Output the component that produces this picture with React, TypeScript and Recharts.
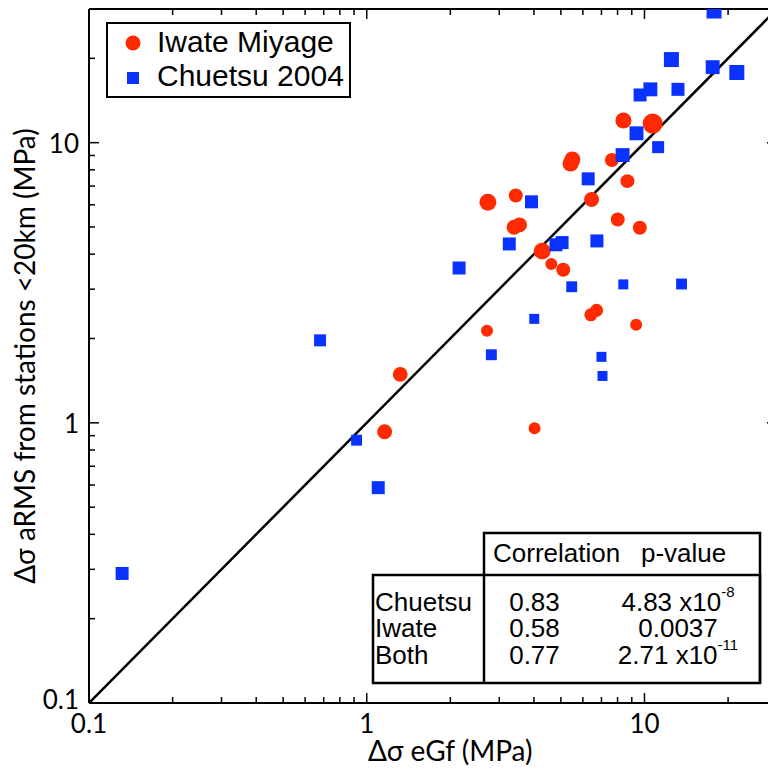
import React from "react";
import { ScatterChart, Scatter, XAxis, YAxis, ZAxis, Legend } from "recharts";

// log axes, both 0.1 .. 30 MPa
const axisDomain = [0.1, 30];
const logTicks = [
  0.1, 0.2, 0.3, 0.4, 0.5, 0.6, 0.7, 0.8, 0.9,
  1, 2, 3, 4, 5, 6, 7, 8, 9,
  10, 20, 30,
];
const tickLabels = [0.1, 1, 10];

// Iwate Miyage: eGf stress drop, aRMS stress drop, magnitude (marker size)
const iwateEgf = [8.4, 10.7, 7.63, 5.5, 5.42, 8.68, 2.73, 3.44, 6.45, 3.39, 3.55, 8.01, 9.62, 4.28, 4.62, 5.1, 6.41, 6.72, 9.33, 2.71, 1.32, 1.16, 4.02];
const iwateArms = [12.0, 11.7, 8.67, 8.71, 8.43, 7.29, 6.13, 6.48, 6.27, 4.99, 5.09, 5.32, 4.97, 4.1, 3.69, 3.52, 2.43, 2.52, 2.24, 2.13, 1.49, 0.929, 0.957];
const iwateMag = [3.9, 5.0, 3.4, 3.9, 3.9, 3.4, 4.1, 3.4, 3.6, 3.6, 3.6, 3.4, 3.4, 4.1, 3.0, 3.4, 3.2, 3.2, 3.0, 3.0, 3.6, 3.6, 3.0];

// Chuetsu 2004
const chuetsuEgf = [17.8, 12.5, 17.6, 21.5, 10.5, 9.64, 13.2, 9.36, 11.2, 8.34, 6.27, 3.92, 3.26, 5.05, 4.8, 6.74, 2.15, 5.47, 8.39, 13.6, 4.01, 2.81, 7.0, 7.06, 0.679, 0.919, 1.1, 0.1316];
const chuetsuArms = [29.5, 19.8, 18.6, 17.8, 15.5, 14.8, 15.5, 10.8, 9.64, 9.03, 7.43, 6.15, 4.35, 4.4, 4.32, 4.46, 3.57, 3.06, 3.12, 3.13, 2.35, 1.75, 1.72, 1.47, 1.97, 0.867, 0.587, 0.29];
const chuetsuMag = [5.0, 5.0, 4.5, 5.0, 4.5, 4.1, 4.1, 4.5, 3.7, 4.5, 4.1, 4.1, 4.1, 4.1, 4.1, 4.1, 4.1, 3.3, 3.0, 3.3, 3.0, 3.3, 3.0, 3.0, 3.7, 3.3, 4.1, 4.1];

const oneToOne = [0.1, 30];

// correlation table
const corrRows = ["Chuetsu", "Iwate", "Both"];
const corrValues = ["0.83", "0.58", "0.77"];
const pMantissa = ["4.83 x10", "0.0037", "2.71 x10"];
const pExponent = ["-8", "", "-11"];

const RED = "#ff2a00";
const BLUE = "#0a32ff";
const TICK_FONT = "Lato, 'Open Sans', sans-serif";
const TABLE_FONT = "'Liberation Sans', Arial, sans-serif";

const zip = (xs: number[], ys: number[], ms: number[]) =>
  xs.map((x, i) => ({ x, y: ys[i], m: ms[i] }));

const iwate = zip(iwateEgf, iwateArms, iwateMag);
const chuetsu = zip(chuetsuEgf, chuetsuArms, chuetsuMag);
const diag = oneToOne.map((v) => ({ x: v, y: v }));

type Side = "bottom" | "top" | "left" | "right";

function LogTick(props: any) {
  const { x, y, payload, side } = props as { x: number; y: number; payload: { value: number }; side: Side };
  const v = payload.value;
  const major = tickLabels.includes(v);
  const len = major ? 10 : 6;
  let x2 = x, y2 = y;
  if (side === "bottom") y2 = y - len;
  if (side === "top") y2 = y + len;
  if (side === "left") x2 = x + len;
  if (side === "right") x2 = x - len;
  return (
    <g>
      <line x1={x} y1={y} x2={x2} y2={y2} stroke="#000" strokeWidth={1.5} />
      {major && side === "bottom" && (
        <text x={x} y={y + 30} textAnchor="middle" fontSize={26} fontFamily={TICK_FONT} fill="#000">
          {String(v)}
        </text>
      )}
      {major && side === "left" && (
        <text x={x - 10} y={v === axisDomain[0] ? y + 6 : y + 10} textAnchor="end" fontSize={26} fontFamily={TICK_FONT} fill="#000">
          {String(v)}
        </text>
      )}
    </g>
  );
}

function LegendBox() {
  return (
    <svg width={245} height={76} style={{ display: "block" }}>
      <rect x={1} y={1} width={243} height={74} fill="#fff" stroke="#000" strokeWidth={2} />
      <circle cx={27} cy={21} r={7.5} fill={RED} />
      <text x={51} y={30} fontSize={30} fontFamily={TABLE_FONT} fill="#000">Iwate Miyage</text>
      <rect x={21} y={50} width={12} height={12} fill={BLUE} />
      <text x={51} y={64} fontSize={30} fontFamily={TABLE_FONT} fill="#000">Chuetsu 2004</text>
    </svg>
  );
}

function CorrTable() {
  const rowBase = [610.7, 637.3, 664];
  return (
    <svg width={768} height={773} style={{ position: "absolute", left: 0, top: 0, pointerEvents: "none" }}>
      <g fill="none" stroke="#000" strokeWidth={2.5}>
        <polyline points="484,683 484,533 760,533 760,683" />
        <rect x={373} y={575} width={387} height={108} />
      </g>
      <g fontFamily={TABLE_FONT} fontSize={26} fill="#000">
        <text x={493} y={561.7}>Correlation</text>
        <text x={641} y={561.7}>p-value</text>
        {corrRows.map((r, i) => (
          <g key={r}>
            <text x={375} y={rowBase[i]}>{r}</text>
            <text x={534.5} y={rowBase[i]} textAnchor="middle">{corrValues[i]}</text>
            <text x={678} y={rowBase[i]} textAnchor="middle">
              {pMantissa[i]}
              {pExponent[i] && (
                <tspan fontSize={15} dy={-14}>{pExponent[i]}</tspan>
              )}
            </text>
          </g>
        ))}
      </g>
    </svg>
  );
}

export default function App() {
  const axisLine = { stroke: "#000", strokeWidth: 2 };
  return (
    <div style={{ position: "absolute", left: 0, top: 0, width: 768, height: 773, overflow: "hidden", background: "#fff" }}>
      <ScatterChart width={800} height={773} margin={{ top: 0, right: 0, bottom: 0, left: 0 }}>
        <XAxis
          xAxisId="b"
          dataKey="x"
          type="number"
          scale="log"
          domain={axisDomain}
          allowDataOverflow
          ticks={logTicks}
          interval={0}
          orientation="bottom"
          height={70}
          axisLine={axisLine}
          tickLine={false}
          tickSize={0}
          tickMargin={0}
          tick={(p: any) => <LogTick {...p} side="bottom" />}
          label={{
            content: (p: any) => {
              const vb = p.viewBox;
              return (
                <text x={vb.x + vb.width * 0.525} y={vb.y + 58} textAnchor="middle" fontSize={28} fontFamily={TICK_FONT} fill="#000">
                  Δσ eGf (MPa)
                </text>
              );
            },
          }}
        />
        <XAxis
          xAxisId="t"
          dataKey="x"
          type="number"
          scale="log"
          domain={axisDomain}
          allowDataOverflow
          ticks={logTicks}
          interval={0}
          orientation="top"
          height={9}
          axisLine={axisLine}
          tickLine={false}
          tickSize={0}
          tickMargin={0}
          tick={(p: any) => <LogTick {...p} side="top" />}
        />
        <YAxis
          yAxisId="l"
          dataKey="y"
          type="number"
          scale="log"
          domain={axisDomain}
          allowDataOverflow
          ticks={logTicks}
          interval={0}
          orientation="left"
          width={89}
          axisLine={axisLine}
          tickLine={false}
          tickSize={0}
          tickMargin={0}
          tick={(p: any) => <LogTick {...p} side="left" />}
          label={{
            content: (p: any) => {
              const vb = p.viewBox;
              const cy = vb.y + vb.height / 2;
              return (
                <text x={35} y={cy} transform={`rotate(-90, 35, ${cy})`} textAnchor="middle" fontSize={28} fontFamily={TICK_FONT} fill="#000">
                  Δσ aRMS from stations &lt;20km (MPa)
                </text>
              );
            },
          }}
        />
        <YAxis
          yAxisId="r"
          dataKey="y"
          type="number"
          scale="log"
          domain={axisDomain}
          allowDataOverflow
          ticks={logTicks}
          interval={0}
          orientation="right"
          width={23}
          axisLine={axisLine}
          tickLine={false}
          tickSize={0}
          tickMargin={0}
          tick={(p: any) => <LogTick {...p} side="right" />}
        />
        <ZAxis zAxisId="iw" dataKey="m" type="number" domain={[3, 5]} range={[113, 314]} />
        <ZAxis zAxisId="ch" dataKey="m" type="number" domain={[3, 5]} range={[100, 225]} />
        <Scatter
          data={diag}
          xAxisId="t"
          yAxisId="r"
          line={{ stroke: "#000", strokeWidth: 2.5 }}
          shape={() => <g />}
          legendType="none"
          isAnimationActive={false}
        />
        <Scatter
          name="Iwate Miyage"
          data={iwate}
          xAxisId="b"
          yAxisId="l"
          zAxisId="iw"
          shape="circle"
          fill={RED}
          isAnimationActive={false}
        />
        <Scatter
          name="Chuetsu 2004"
          data={chuetsu}
          xAxisId="b"
          yAxisId="l"
          zAxisId="ch"
          shape="square"
          fill={BLUE}
          isAnimationActive={false}
        />
        <Legend
          layout="horizontal"
          align="center"
          verticalAlign="middle"
          content={() => <LegendBox />}
          wrapperStyle={{ left: 106, top: 22, width: 245, height: 76 }}
        />
      </ScatterChart>
      <CorrTable />
    </div>
  );
}
